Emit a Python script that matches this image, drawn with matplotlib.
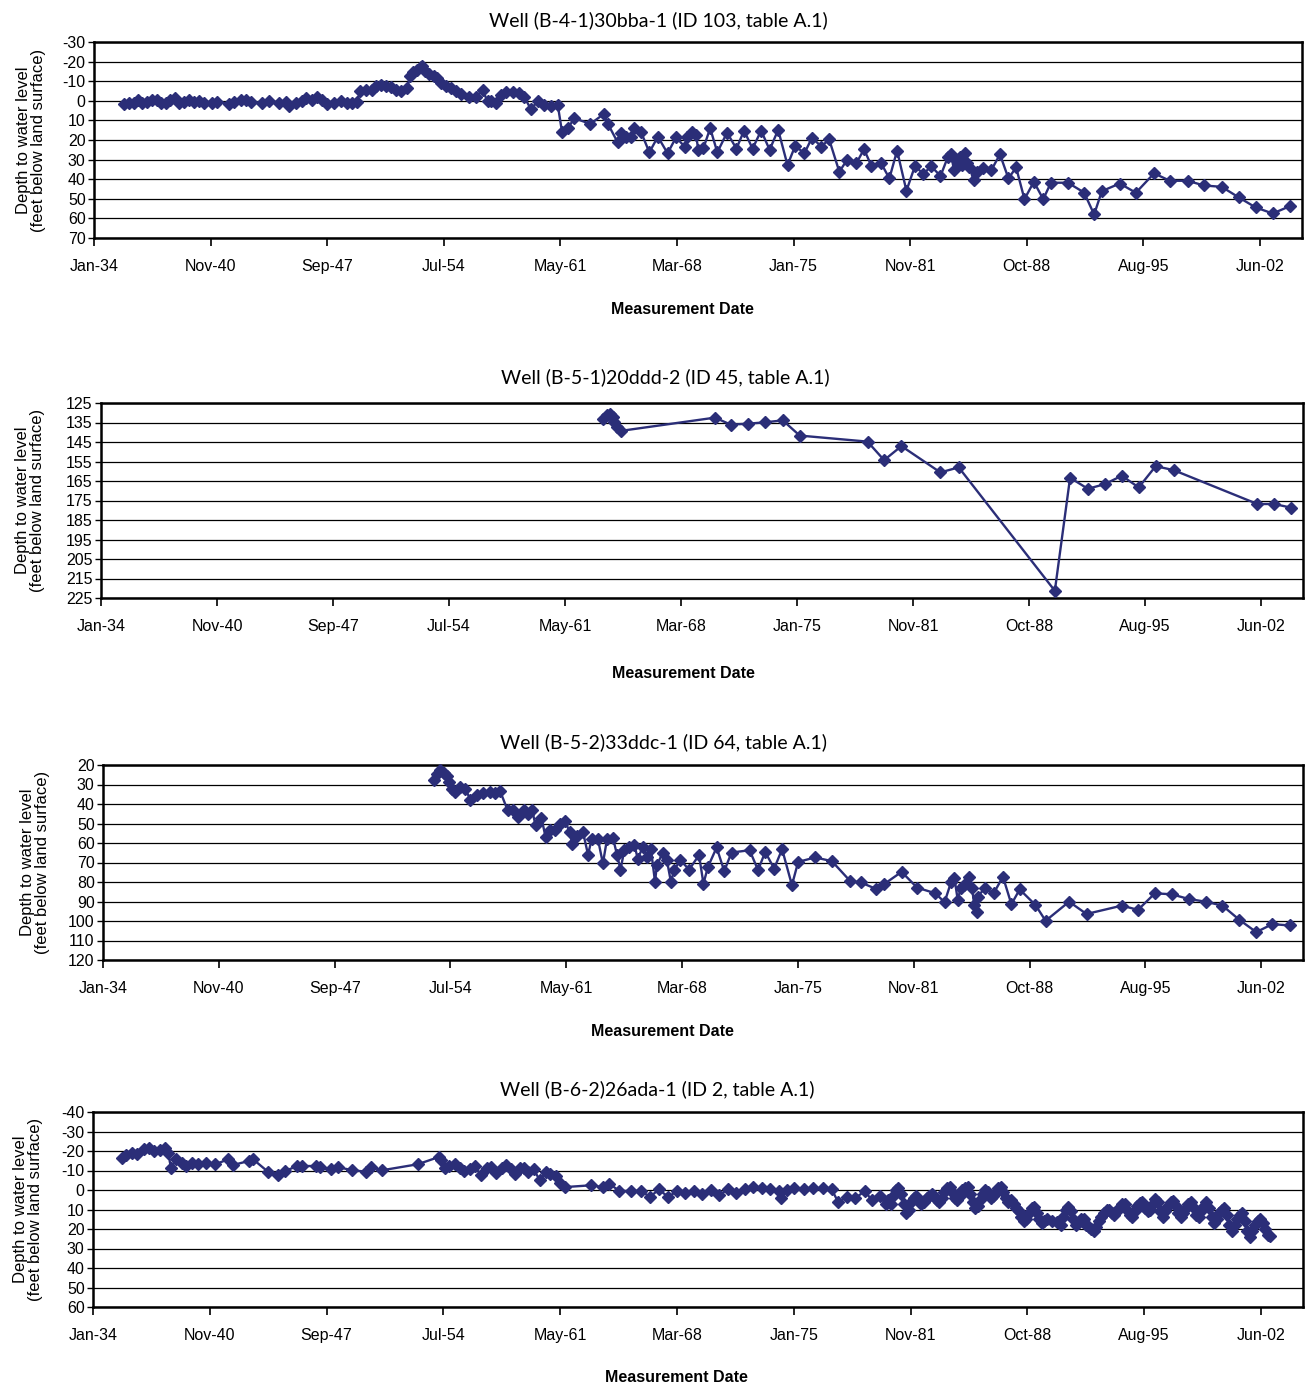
import datetime as dt
import matplotlib
matplotlib.use("Agg")
import matplotlib.pyplot as plt
import matplotlib.dates as mdates

plt.rcParams['axes.unicode_minus'] = False
plt.rcParams['font.family'] = ['Liberation Sans', 'DejaVu Sans']

# ---- data: (decimal year, depth to water in feet below land surface) ----
w1_year = [1935.74, 1936.04, 1936.33, 1936.59, 1936.82, 1937.12, 1937.41, 1937.70, 1937.96,
           1938.23, 1938.49, 1938.74, 1938.98, 1939.27, 1939.57, 1939.86, 1940.15, 1940.45,
           1940.94, 1941.23, 1941.92, 1942.21, 1942.60, 1942.90, 1943.19, 1943.88, 1944.27,
           1944.86, 1945.25, 1945.44, 1945.84, 1946.23, 1946.46, 1946.82, 1947.11, 1947.40,
           1947.70, 1948.09, 1948.48, 1948.87, 1949.17, 1949.46, 1949.60, 1949.95, 1950.30,
           1950.54, 1950.83, 1951.13, 1951.42, 1951.71, 1952.01, 1952.40, 1952.54, 1952.73,
           1952.99, 1953.18, 1953.28, 1953.44, 1953.67, 1953.97, 1954.16, 1954.36, 1954.65,
           1954.95, 1955.24, 1955.54, 1956.03, 1956.42, 1956.81, 1957.10, 1957.30, 1957.59,
           1957.89, 1958.18, 1958.57, 1958.97, 1959.26, 1959.65, 1960.04, 1960.44, 1960.83,
           1961.22, 1961.47, 1961.81, 1962.20, 1963.14, 1963.93, 1964.17, 1964.74, 1964.91,
           1965.23, 1965.53, 1965.68, 1966.10, 1966.60, 1967.10, 1967.67, 1968.17, 1968.67,
           1968.84, 1969.09, 1969.34, 1969.47, 1969.77, 1970.17, 1970.59, 1971.16, 1971.71,
           1972.16, 1972.66, 1973.16, 1973.66, 1974.16, 1974.71, 1975.16, 1975.70, 1976.15,
           1976.70, 1977.15, 1977.75, 1978.20, 1978.75, 1979.20, 1979.64, 1980.19, 1980.69,
           1981.14, 1981.69, 1982.19, 1982.69, 1983.14, 1983.69, 1984.13, 1984.31, 1984.48,
           1984.63, 1984.81, 1984.93, 1985.11, 1985.23, 1985.38, 1985.63, 1985.81, 1986.18,
           1986.68, 1987.18, 1987.68, 1988.13, 1988.62, 1989.17, 1989.72, 1990.17, 1991.17,
           1992.12, 1992.71, 1993.16, 1994.21, 1995.16, 1996.23, 1997.15, 1998.20, 1999.15,
           2000.20, 2001.20, 2002.19, 2003.19, 2004.19]
w1_depth = [1.7, 1.2, 0.9, -0.2, 1.2, 0.5, -0.2, -0.5, 1.2,
            0.9, -0.2, -1.5, 1.2, 0.5, -0.2, 0.5, 0.3, 1.2,
            1.2, 0.5, 1.5, 0.5, -0.5, -0.2, 0.5, 1.2, 0.2,
            0.9, 0.5, 2.6, 0.9, 0.3, -1.2, -0.2, -1.9, -0.2,
            1.5, 0.9, 0.2, 1.2, 1.2, 0.5, -4.8, -5.3, -5.3,
            -7.4, -8.2, -7.7, -7.0, -5.6, -4.8, -6.5, -12.5, -14.5,
            -15.9, -17.3, -18.0, -15.0, -13.8, -12.8, -11.6, -9.0, -7.4,
            -6.5, -4.8, -3.6, -1.9, -1.9, -5.6, 0.3, 0.3, 1.2,
            -3.1, -4.3, -4.3, -3.9, -1.9, 4.3, 0.3, 2.0, 2.9,
            2.0, 15.7, 14.0, 8.9, 11.8, 6.7, 11.8, 21.2, 16.6,
            18.3, 18.6, 14.0, 15.7, 26.3, 18.3, 26.8, 18.6, 23.4,
            18.3, 15.7, 17.4, 25.0, 24.2, 14.0, 26.3, 16.2, 24.4,
            15.2, 24.4, 15.2, 25.0, 14.8, 32.8, 23.0, 26.8, 18.8,
            23.4, 19.6, 36.2, 30.2, 31.9, 24.7, 33.3, 31.6, 39.6,
            25.4, 45.9, 33.3, 37.4, 33.3, 38.4, 28.5, 27.1, 35.3,
            30.2, 28.5, 32.8, 26.8, 31.9, 33.6, 40.4, 36.2, 34.5,
            35.3, 27.3, 39.6, 34.0, 50.2, 41.3, 50.2, 41.8, 41.8,
            46.8, 58.0, 46.1, 42.2, 46.9, 37.0, 40.8, 40.8, 43.2,
            43.9, 49.3, 54.4, 57.5, 53.8]

w2_year = [1963.61, 1963.86, 1964.03, 1964.18, 1964.28, 1964.43, 1964.67, 1970.22, 1971.15,
           1972.19, 1973.19, 1974.22, 1975.22, 1979.22, 1980.20, 1981.22, 1983.52, 1984.60,
           1990.27, 1991.17, 1992.22, 1993.22, 1994.22, 1995.22, 1996.22, 1997.27, 2002.22,
           2003.22, 2004.22]
w2_depth = [133.0, 131.3, 130.5, 132.2, 134.7, 137.3, 139.3, 132.5, 136.1,
            135.6, 134.9, 133.9, 141.7, 144.8, 154.3, 147.1, 160.6, 158.0,
            221.3, 163.3, 169.0, 166.6, 162.3, 168.3, 157.4, 159.4, 176.8,
            176.8, 178.7]

w3_year = [1953.55, 1953.74, 1953.93, 1954.13, 1954.32, 1954.46, 1954.62, 1954.82, 1955.11,
           1955.41, 1955.70, 1956.09, 1956.48, 1956.88, 1957.17, 1957.46, 1957.91, 1958.25,
           1958.50, 1958.89, 1959.13, 1959.36, 1959.56, 1959.91, 1960.15, 1960.40, 1960.70,
           1960.99, 1961.29, 1961.58, 1961.72, 1962.03, 1962.36, 1962.66, 1962.89, 1963.24,
           1963.54, 1963.79, 1964.13, 1964.38, 1964.58, 1964.81, 1965.11, 1965.40, 1965.60,
           1965.89, 1966.15, 1966.38, 1966.62, 1966.73, 1967.07, 1967.32, 1967.56, 1967.75,
           1968.11, 1968.64, 1969.22, 1969.48, 1969.75, 1970.26, 1970.71, 1971.14, 1972.21,
           1972.71, 1973.13, 1973.66, 1974.13, 1974.71, 1975.08, 1976.08, 1977.07, 1978.15,
           1978.77, 1979.70, 1980.14, 1981.19, 1982.11, 1983.19, 1983.73, 1984.11, 1984.31,
           1984.51, 1984.68, 1984.86, 1985.18, 1985.36, 1985.48, 1985.63, 1985.68, 1986.10,
           1986.63, 1987.18, 1987.68, 1988.17, 1989.10, 1989.70, 1991.09, 1992.12, 1994.21,
           1995.16, 1996.16, 1997.15, 1998.15, 1999.15, 2000.15, 2001.15, 2002.15, 2003.10,
           2004.14]
w3_depth = [27.5, 24.4, 22.7, 24.1, 25.8, 28.7, 32.1, 33.8, 31.3,
            32.1, 37.7, 35.5, 34.3, 33.8, 34.3, 33.3, 43.2, 43.2,
            46.6, 43.2, 44.9, 43.2, 50.9, 47.0, 56.9, 53.4, 53.4,
            50.0, 48.7, 54.3, 60.3, 56.5, 54.3, 65.9, 57.7, 57.7,
            70.5, 57.7, 57.2, 66.2, 73.6, 63.7, 62.3, 61.1, 68.0,
            62.3, 67.1, 63.3, 79.9, 71.4, 65.1, 68.8, 79.9, 73.9,
            68.8, 73.6, 66.2, 80.8, 72.2, 62.3, 74.4, 64.9, 63.7,
            73.9, 64.6, 73.1, 63.2, 81.6, 69.7, 67.4, 69.3, 79.5,
            80.2, 83.6, 81.2, 74.8, 82.9, 85.8, 90.4, 80.2, 77.8,
            89.2, 83.3, 81.6, 77.3, 83.3, 91.8, 95.5, 87.5, 83.3,
            85.8, 77.3, 91.4, 83.8, 91.8, 99.9, 90.1, 96.4, 92.1,
            94.3, 85.8, 86.3, 88.7, 90.1, 92.1, 99.4, 105.7, 101.6,
            102.3]

w4_year = [1935.68, 1935.93, 1936.27, 1936.59, 1936.97, 1937.26, 1937.58, 1937.90, 1938.20,
           1938.40, 1938.57, 1938.89, 1939.19, 1939.44, 1939.81, 1940.18, 1940.62, 1941.17,
           1941.91, 1942.20, 1943.14, 1943.39, 1944.25, 1944.82, 1945.24, 1945.98, 1946.23,
           1947.05, 1947.29, 1947.96, 1948.33, 1949.20, 1950.01, 1950.31, 1950.93, 1953.03,
           1954.26, 1954.39, 1954.63, 1954.88, 1955.20, 1955.50, 1955.74, 1956.12, 1956.36,
           1956.73, 1957.10, 1957.35, 1957.60, 1957.97, 1958.22, 1958.51, 1958.76, 1959.01,
           1959.25, 1959.50, 1959.82, 1960.19, 1960.56, 1960.81, 1961.13, 1961.38, 1961.67,
           1963.16, 1963.90, 1964.27, 1964.84, 1965.51, 1966.12, 1966.65, 1967.15, 1967.72,
           1968.22, 1968.72, 1969.21, 1969.71, 1970.21, 1970.71, 1971.20, 1971.70, 1972.20,
           1972.69, 1973.19, 1973.69, 1974.19, 1974.31, 1974.68, 1975.11, 1975.68, 1976.17,
           1976.80, 1977.29, 1977.67, 1978.16, 1978.66, 1979.23, 1979.65, 1980.15, 1980.45,
           1980.60, 1980.75, 1980.90, 1981.05, 1981.20, 1981.35, 1981.50, 1981.65, 1981.80,
           1981.95, 1982.10, 1982.25, 1982.40, 1982.55, 1982.70, 1982.85, 1983.00, 1983.15,
           1983.30, 1983.45, 1983.60, 1983.75, 1983.90, 1984.05, 1984.20, 1984.35, 1984.50,
           1984.65, 1984.80, 1984.95, 1985.10, 1985.25, 1985.40, 1985.55, 1985.70, 1985.85,
           1986.00, 1986.15, 1986.30, 1986.45, 1986.60, 1986.75, 1986.90, 1987.05, 1987.20,
           1987.35, 1987.50, 1987.65, 1987.80, 1987.95, 1988.10, 1988.25, 1988.40, 1988.55,
           1988.70, 1988.85, 1989.00, 1989.15, 1989.30, 1989.45, 1989.60, 1989.75, 1989.90,
           1990.20, 1990.50, 1990.70, 1990.85, 1991.00, 1991.15, 1991.30, 1991.45, 1991.60,
           1991.75, 1991.90, 1992.05, 1992.20, 1992.35, 1992.50, 1992.65, 1992.80, 1992.95,
           1993.10, 1993.25, 1993.40, 1993.55, 1993.70, 1993.85, 1994.00, 1994.15, 1994.30,
           1994.45, 1994.60, 1994.75, 1994.90, 1995.05, 1995.20, 1995.35, 1995.50, 1995.65,
           1995.80, 1995.95, 1996.10, 1996.25, 1996.40, 1996.55, 1996.70, 1996.85, 1997.00,
           1997.15, 1997.30, 1997.45, 1997.60, 1997.75, 1997.90, 1998.05, 1998.20, 1998.35,
           1998.50, 1998.65, 1998.80, 1998.95, 1999.10, 1999.25, 1999.40, 1999.55, 1999.70,
           1999.85, 2000.00, 2000.15, 2000.30, 2000.45, 2000.60, 2000.75, 2000.90, 2001.05,
           2001.20, 2001.35, 2001.50, 2001.65, 2001.80, 2001.95, 2002.10, 2002.25, 2002.40,
           2002.55, 2002.70, 2002.85, 2002.95]
w4_depth = [-16.2, -17.9, -19.1, -18.3, -20.9, -21.4, -20.0, -20.3, -21.4,
            -19.1, -11.5, -15.7, -14.0, -12.3, -14.0, -13.2, -14.0, -13.2,
            -15.7, -12.8, -14.9, -15.7, -9.4, -7.7, -9.7, -12.3, -12.3,
            -12.3, -11.8, -10.6, -11.8, -10.1, -9.4, -11.8, -10.1, -13.2,
            -16.9, -15.2, -11.5, -12.3, -13.5, -11.1, -9.7, -10.6, -12.3,
            -7.7, -11.1, -11.8, -8.9, -11.5, -12.8, -10.6, -8.4, -11.1,
            -11.5, -9.4, -10.6, -5.0, -9.4, -8.4, -7.2, -3.8, -1.5,
            -2.4, -1.5, -3.2, 0.5, 0.5, 0.5, 3.6, -0.3, 3.6,
            0.5, 1.7, 0.5, 1.9, 0.2, 2.6, -0.3, 1.4, -0.3,
            -1.7, -0.9, -0.3, 0.5, 4.3, 0.2, -0.9, -0.3, -0.9,
            -0.9, -0.3, 6.2, 3.6, 4.3, 0.5, 5.3, 3.1, 7.4,
            5.0, 7.0, 3.0, 0.0, -1.0, 2.0, 7.0, 12.0, 10.0,
            6.0, 4.0, 3.0, 5.0, 7.0, 6.0, 4.0, 3.0, 2.0,
            3.0, 5.0, 6.0, 4.0, 1.0, -1.0, -1.5, 1.0, 4.0,
            5.0, 3.0, 0.0, -1.0, -1.5, 2.0, 6.0, 9.0, 8.0,
            5.0, 2.0, 0.0, 1.0, 4.0, 3.0, 1.0, -1.0, -1.5,
            1.0, 4.0, 6.0, 5.0, 7.0, 9.0, 11.0, 14.0, 16.0,
            15.0, 12.0, 9.0, 8.5, 12.0, 15.0, 17.0, 16.0, 15.0,
            16.0, 16.5, 18.0, 14.0, 10.0, 8.5, 11.0, 15.0, 18.0,
            17.0, 15.0, 15.0, 18.0, 19.0, 20.0, 21.0, 19.0, 16.0,
            14.0, 12.0, 10.0, 10.0, 12.0, 13.0, 11.0, 9.0, 7.0,
            7.0, 10.0, 13.0, 14.0, 11.0, 8.0, 6.5, 6.0, 9.0,
            11.0, 10.0, 7.0, 4.5, 6.0, 11.0, 14.0, 11.0, 8.0,
            6.0, 5.5, 8.0, 12.0, 14.0, 12.0, 9.0, 7.0, 6.0,
            9.0, 13.0, 14.0, 11.0, 8.0, 6.0, 9.0, 14.0, 17.0,
            15.0, 12.0, 10.0, 9.0, 13.0, 18.0, 21.0, 18.0, 15.0,
            13.0, 12.0, 16.0, 21.0, 24.0, 21.0, 18.0, 16.0, 15.0,
            17.0, 20.0, 23.0, 23.5]

titles = ["Well (B-4-1)30bba-1 (ID 103, table A.1)",
          "Well (B-5-1)20ddd-2 (ID 45, table A.1)",
          "Well (B-5-2)33ddc-1 (ID 64, table A.1)",
          "Well (B-6-2)26ada-1 (ID 2, table A.1)"]
y_ranges = [(-30, 70), (125, 225), (20, 120), (-40, 60)]

W, H = 1305, 1387
navy = '#2b2e78'
base = dt.datetime(1934, 1, 1)
x_ticks = [base + dt.timedelta(days=2500 * k) for k in range(11)]
x_max = base + dt.timedelta(days=25900)


def to_dates(years):
    out = []
    for y in years:
        yr = int(y)
        out.append(dt.datetime(yr, 1, 1) + dt.timedelta(days=(y - yr) * 365.25))
    return out


# axes boxes in pixels: left, top, right, bottom
boxes = [(94, 42, 1302, 238), (101, 403, 1303, 598), (103, 765, 1303, 960), (93, 1112, 1303, 1307)]
title_pos = [(658, 20), (665, 377), (663, 742), (657, 1089)]
xlabel_pos = [(682, 310), (683, 674), (662, 1031), (676, 1378)]
ylabel_x = [31, 30, 35, 28]

series = [(w1_year, w1_depth), (w2_year, w2_depth), (w3_year, w3_depth), (w4_year, w4_depth)]

fig = plt.figure(figsize=(W / 100, H / 100), dpi=100)

for i in range(4):
    l, t, r, b = boxes[i]
    ax = fig.add_axes([l / W, 1 - b / H, (r - l) / W, (b - t) / H])
    yrs, dep = series[i]
    ax.plot(to_dates(yrs), dep, color=navy, lw=1.7, marker='D', ms=5.8,
            mfc=navy, mec=navy, clip_on=False, zorder=3)
    lo, hi = y_ranges[i]
    ax.set_ylim(hi, lo)
    ax.set_yticks(range(lo, hi + 1, 10))
    ax.set_xlim(base, x_max)
    ax.set_xticks(x_ticks)
    ax.xaxis.set_major_formatter(mdates.DateFormatter('%b-%y'))
    ax.yaxis.grid(True, color='black', lw=0.9)
    ax.set_axisbelow(True)
    for s in ax.spines.values():
        s.set_linewidth(1.8)
        s.set_color('black')
    ax.tick_params(axis='x', direction='out', length=6, width=1.2, pad=9, labelsize=11.5)
    ax.tick_params(axis='y', direction='out', length=4, width=1.0, pad=2, labelsize=11.5)

    tx, ty = title_pos[i]
    fig.text(tx / W, 1 - ty / H, titles[i], ha='center', va='center',
             fontsize=14, family='Lato')
    xx, xy = xlabel_pos[i]
    fig.text(xx / W, 1 - xy / H, 'Measurement Date', ha='center', va='center',
             fontsize=11.5, fontweight='bold')
    fig.text(ylabel_x[i] / W, 1 - ((t + b) / 2) / H,
             'Depth to water level\n(feet below land surface)', rotation=90,
             ha='center', va='center', fontsize=12, linespacing=1.0)

fig.savefig('out.png', dpi=100)
